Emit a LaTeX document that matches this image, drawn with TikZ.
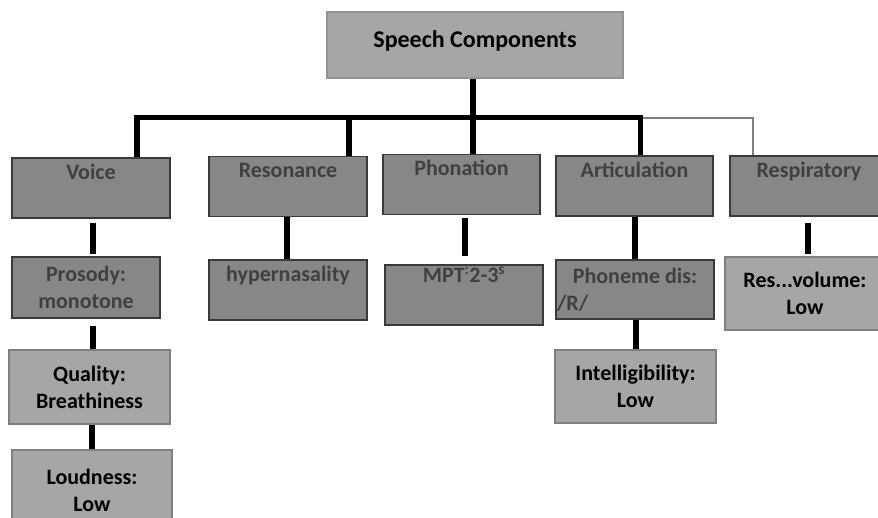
\documentclass[tikz,border=0pt]{standalone}
\usepackage{fontspec}
\setmainfont{Carlito}
\usetikzlibrary{positioning}

\definecolor{boxdark}{HTML}{878787}
\definecolor{boxlight}{HTML}{A6A6A6}
\definecolor{edgedark}{HTML}{3A3A3A}
\definecolor{edgelight}{HTML}{7F7F7F}
\definecolor{textdark}{HTML}{404040}

\tikzset{
  comp/.style={draw=edgedark, line width=1.2pt, fill=boxdark, text=textdark, inner sep=0pt,
    minimum width=158pt, font=\bfseries\fontsize{22}{27}\selectfont},
  head/.style={comp, text height=21pt, text depth=39pt},
  sub/.style={comp, align=center, minimum height=60pt},
  result/.style={draw=edgelight, line width=2pt, fill=boxlight, text=black, inner sep=0pt,
    align=center, minimum width=160pt, font=\bfseries\fontsize{22}{27}\selectfont},
  trunk/.style={line width=5.5pt},
  branch/.style={line width=6pt},
  feed/.style={draw=edgelight, line width=2pt},
}

\begin{document}
\begin{tikzpicture}[x=1pt, y=-1pt]
  \useasboundingbox (0,0) rectangle (878,517);
  \clip (0,0) rectangle (878,517);

  % root
  \node[result, draw=gray!85, minimum width=296pt, text height=35pt, text depth=31pt,
        font=\bfseries\fontsize{24}{29}\selectfont] (speech) at (475,45) {Speech Components};

  % components
  \node[head] (voice) at (91,188) {Voice};
  \node[head] (resonance) at (288,186.5) {Resonance};
  \node[head, minimum width=157pt] (phonation) at (461.5,184.5) {Phonation};
  \node[head, minimum width=157pt] (articulation) at (634.5,186) {Articulation};
  \node[head] (respiratory) at (809,186) {Respiratory};

  % findings
  \node[sub, minimum width=148pt, minimum height=61pt] (prosody) at (86,287.5) {Prosody:\\monotone};
  \node[head] (hyper) at (288,290) {hypernasality};
  \node[comp, text height=17pt, text depth=43pt] (mpt) at (464,295) {MPT\textsuperscript{:}2-3\textsuperscript{s}};
  \node[sub, minimum height=59pt, inner xsep=1pt] (phoneme) at (635,289.5) {Phoneme dis:\\\makebox[156pt][l]{/R/}};
  \node[result, minimum height=73pt] (resvol) at (805,293.5) {Res...volume:\\Low};
  \node[result, minimum width=161pt, minimum height=74pt] (quality) at (89.5,387) {Quality:\\Breathiness};
  \node[result, minimum height=80pt] (loudness) at (92,490) {Loudness:\\Low};
  \node[result, minimum width=161pt, minimum height=73pt] (intel) at (635.5,386.5) {Intelligibility:\\Low};

  % tree
  \coordinate (hub) at (473,117.5);
  \draw[trunk] (hub) -- (hub |- speech.south);
  \draw[trunk] ([xshift=46pt]voice.north) |- (hub) -| ([xshift=6pt]articulation.north);
  \draw[trunk] ([xshift=61pt]resonance.north) -- ([xshift=61pt]resonance.north |- hub);
  \draw[trunk] (hub) -- (hub |- phonation.north);
  \draw[feed] ([xshift=-56pt]respiratory.north) |- ([xshift=8pt]articulation.north |- hub);

  \draw[branch, shorten <=4pt, shorten >=2pt] ([xshift=2pt]voice.south) -- ([xshift=2pt]voice.south |- prosody.north);
  \draw[branch, shorten <=7pt] ([xshift=7pt]prosody.south) -- ([xshift=7pt]prosody.south |- quality.north);
  \draw[branch] ([xshift=2.5pt]quality.south) -- ([xshift=2.5pt]quality.south |- loudness.north);
  \draw[branch] ([xshift=-1pt]resonance.south) -- ([xshift=-1pt]resonance.south |- hyper.north);
  \draw[branch, shorten <=3pt, shorten >=8pt] ([xshift=3.5pt]phonation.south) -- ([xshift=3.5pt]phonation.south |- mpt.north);
  \draw[branch] ([xshift=0.5pt]articulation.south) -- ([xshift=0.5pt]articulation.south |- phoneme.north);
  \draw[branch] ([xshift=1pt]phoneme.south) -- ([xshift=1pt]phoneme.south |- intel.north);
  \draw[branch, shorten <=6pt, shorten >=2pt] ([xshift=-1pt]respiratory.south) -- ([xshift=-1pt]respiratory.south |- resvol.north);
\end{tikzpicture}
\end{document}
